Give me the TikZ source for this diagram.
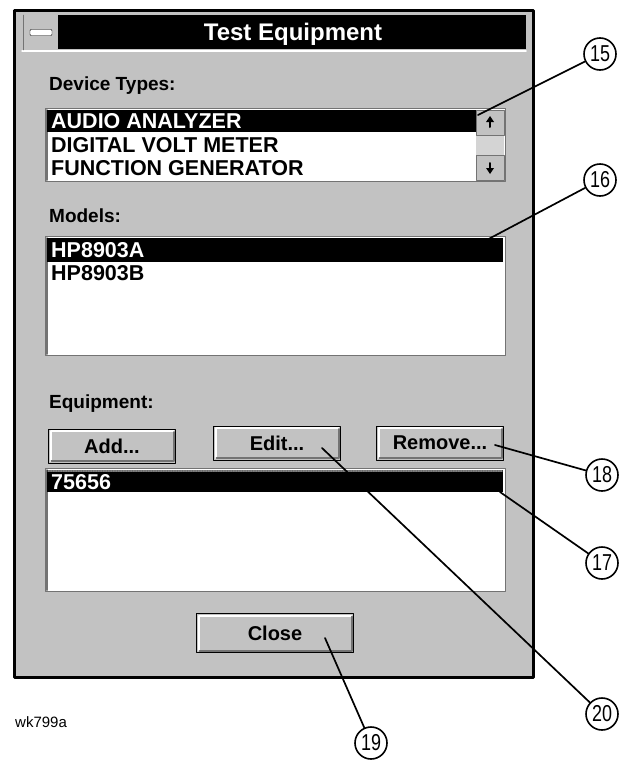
\documentclass[tikz,border=0pt]{standalone}
\usepackage{fontspec}
\setmainfont{Liberation Sans}
\definecolor{winbg}{gray}{0.76}
\definecolor{bevel}{gray}{0.45}
\begin{document}
\begin{tikzpicture}[x=1pt, y=-1pt, line join=round, line cap=round,
  lbl/.style={font=\bfseries\fontsize{19}{19}\selectfont, anchor=west, inner sep=0},
  item/.style={font=\bfseries\fontsize{21.5}{21.5}\selectfont, anchor=west, inner sep=0},
  btn/.style={draw=black, line width=1pt, fill=winbg, inner sep=0, font=\bfseries\fontsize{20}{20}\selectfont},
  callout/.style={draw, circle, line width=1.6pt, fill=white, minimum size=32pt, inner sep=0, font=\fontsize{23}{23}\selectfont},
  lead/.style={line width=1.7pt}]
  \useasboundingbox (0,0) rectangle (620,763);
  % window
  \draw[line width=3pt, fill=winbg] (14,10) rectangle (533,677);
  \fill[black] (58,15) rectangle (526,49);
  \draw[white, line width=1.5pt] (22,51) -- (526,51);
  \draw[bevel] (23,15) -- (23,50);
  \node[font=\bfseries\fontsize{24}{24}\selectfont, text=white] (title) at (293,34) {Test Equipment};
  \draw[black, fill=white, rounded corners=1pt] (30,29.5) rectangle (52,35.5);
  % device types
  \node[lbl] (devlbl) at (49,86) {Device Types:};
  \draw[bevel, fill=white] (45,108) rectangle (505,181);
  \draw[bevel, line width=2pt] (47,110) -- (47,180);
  \fill[black] (47,110) rectangle (476,132);
  \node[item, text=white] (aa) at (51,121) {AUDIO ANALYZER};
  \node[item] (dvm) at (51,145) {DIGITAL VOLT METER};
  \node[item] (fg) at (51,168) {FUNCTION GENERATOR};
  \fill[winbg!70!white] (476,110) rectangle (504,180);
  \draw[bevel, fill=winbg] (476,110) rectangle (504,135);
  \draw[bevel, fill=winbg] (476,155) rectangle (504,180);
  \fill[black] (490,116) -- (486,122) -- (494,122) -- cycle;
  \draw[line width=2pt] (490,121) -- (490,127);
  \fill[black] (490,174) -- (486,168) -- (494,168) -- cycle;
  \draw[line width=2pt] (490,163) -- (490,169);
  \coordinate (p15) at (478,115);
  % models
  \node[lbl] (modlbl) at (49,216) {Models:};
  \draw[bevel, fill=white] (45,236) rectangle (505,355);
  \draw[bevel, line width=2pt] (47,238) -- (47,354);
  \fill[black] (47,238) rectangle (503,262);
  \node[item, text=white] (hpa) at (51,250) {HP8903A};
  \node[item] (hpb) at (51,273) {HP8903B};
  \coordinate (p16) at (464,252);
  % equipment
  \node[lbl] (eqlbl) at (49,404) {Equipment:};
  \node[btn, minimum width=127pt, minimum height=34pt] (add) at (112,446) {Add...};
  \node[btn, minimum width=127pt, minimum height=34pt] (edit) at (277,443) {Edit...};
  \node[btn, minimum width=127pt, minimum height=34pt] (remove) at (440,443) {Remove...};
  \draw[bevel, fill=white] (45,468) rectangle (505,591);
  \draw[bevel, line width=2pt] (47,470) -- (47,590);
  \fill[black] (47,470) rectangle (503,492);
  \draw[gray, densely dotted, line width=1.5pt] (48,471) -- (502,471);
  \node[item, text=white] (num) at (51,482) {75656};
  \node[btn, minimum width=157pt, minimum height=39pt] (close) at (275,633) {Close};
  \foreach \b in {add,edit,remove,close}{
    \draw[white, line width=2pt] ([shift={(2.5,-2.5)}]\b.south west) -- ([shift={(2.5,2.5)}]\b.north west) -- ([shift={(-2.5,2.5)}]\b.north east);
    \draw[bevel, line width=2pt] ([shift={(3.5,-2.5)}]\b.south west) -- ([shift={(-2.5,-2.5)}]\b.south east) -- ([shift={(-2.5,3.5)}]\b.north east);
  }
  \coordinate (p18) at (495,445);
  \coordinate (p17) at (500,492);
  \coordinate (p20) at (322,448);
  \coordinate (p19) at (325,638);
  \node[font=\fontsize{15}{15}\selectfont, anchor=west, inner sep=0] (fig) at (15,722) {wk799a};
  % callouts
  \node[callout] (c15) at (600,54) {\scalebox{0.78}[1]{15}};
  \node[callout] (c16) at (600,180) {\scalebox{0.78}[1]{16}};
  \node[callout] (c18) at (602,475) {\scalebox{0.78}[1]{18}};
  \node[callout] (c17) at (602,563) {\scalebox{0.78}[1]{17}};
  \node[callout] (c20) at (602,714) {\scalebox{0.78}[1]{20}};
  \node[callout] (c19) at (371,743) {\scalebox{0.78}[1]{19}};
  \foreach \n in {15,16,18,17,20,19}
    \draw[lead] (c\n) -- (p\n);
\end{tikzpicture}
\end{document}
